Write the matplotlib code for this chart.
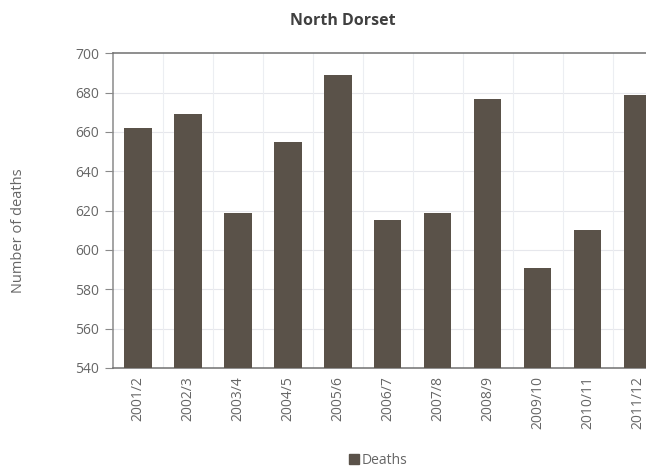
import matplotlib
matplotlib.use("Agg")
import matplotlib.pyplot as plt
from matplotlib.patches import Patch

years = ["2001/2", "2002/3", "2003/4", "2004/5", "2005/6", "2006/7",
         "2007/8", "2008/9", "2009/10", "2010/11", "2011/12"]
deaths = [662, 669, 619, 655, 689, 615, 619, 677, 591, 610, 679]

bar_color = "#5a5249"
text_color = "#666666"

plt.rcParams["font.family"] = ["Open Sans", "DejaVu Sans"]

fig = plt.figure(figsize=(6.46, 4.68), dpi=100)
ax = fig.add_axes([0.175, 0.214, 0.835, 0.672])

x = list(range(len(years)))
ax.bar(x, deaths, width=0.55, color=bar_color, zorder=3)

ax.set_ylim(540, 700)
ax.set_yticks(range(540, 701, 20))
ax.set_xlim(-0.5, 10.3)
ax.set_xticks(x)
ax.set_xticklabels(years, rotation=90, fontsize=10, color=text_color)
ax.tick_params(axis="y", labelsize=10, labelcolor=text_color, length=6,
               color="#8a8a8a", direction="out", pad=4)
ax.tick_params(axis="x", length=0, pad=6)

# faint grid: horizontal at each tick, vertical between categories
for v in range(560, 700, 20):
    ax.axhline(v, color="#e6e7ec", lw=0.8, zorder=1)
for b in [i + 0.5 for i in range(len(years) - 1)]:
    ax.axvline(b, color="#eceef2", lw=0.8, zorder=1)

ax.spines["right"].set_visible(False)
ax.spines["top"].set_color("#707070")
ax.spines["left"].set_color("#8a8a8a")
ax.spines["bottom"].set_color("#707070")
for s in ["top", "left", "bottom"]:
    ax.spines[s].set_linewidth(1.1)

fig.text(0.028, 0.508, "Number of deaths", rotation=90, ha="center",
         va="center", fontsize=10.5, color=text_color)
fig.text(0.53, 0.955, "North Dorset", ha="center", va="center",
         fontsize=11.5, fontweight="bold", color="#404040")

leg = fig.legend(handles=[Patch(color=bar_color, label="Deaths")],
                 loc="center", bbox_to_anchor=(0.585, 0.017), frameon=False,
                 fontsize=10, handlelength=0.7, handleheight=0.7,
                 handletextpad=0.2, labelcolor=text_color)

fig.savefig("out.png", dpi=100, facecolor="white")
